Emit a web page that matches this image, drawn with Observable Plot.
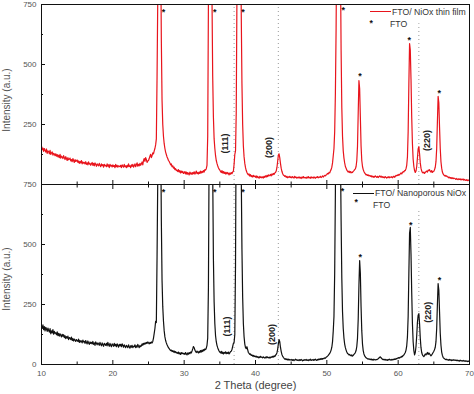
<!DOCTYPE html>
<html><head><meta charset="utf-8">
<script src="https://cdn.jsdelivr.net/npm/d3@7"></script>
<script src="https://cdn.jsdelivr.net/npm/@observablehq/plot@0.6"></script>
<style>
body{margin:0;background:#fff;}
#chart{position:relative;width:474px;height:394px;font-family:"Liberation Sans",Arial,sans-serif;}
#chart svg{position:absolute;left:0;}
.lg{position:absolute;font-size:8.7px;color:#333;line-height:1;white-space:nowrap;}
.ln{position:absolute;height:0;}
.yt{position:absolute;font-size:10px;color:#555;line-height:1;white-space:nowrap;transform:translate(-50%,-50%) rotate(-90deg);}
</style></head><body><div id="chart"></div>
<script>
// 2θ sampling grid (degrees), 10.0 → 70.0 every 0.1°
const angles = d3.range(0, 601).map(i => +(10 + i * 0.1).toFixed(1));

// FTO / NiOx thin film (red, top panel), intensity
const redIntensity = [
/*10*/160,145,152,138,150,142,135,148,130,140,
/*11*/138,128,142,125,132,136,122,130,127,120,
/*12*/128,118,125,115,122,112,126,110,118,114,
/*13*/108,120,112,104,116,108,100,112,103,106,
/*14*/110,98,104,95,108,100,92,104,96,99,
/*15*/102,92,98,88,96,90,100,86,94,89,
/*16*/92,86,95,84,90,82,94,85,88,80,
/*17*/86,92,80,88,78,90,84,76,86,82,
/*18*/78,88,80,74,86,79,83,72,84,78,
/*19*/80,74,86,76,82,70,84,77,80,73,
/*20*/82,75,79,70,84,74,80,72,78,76,
/*21*/74,80,70,82,76,72,84,74,78,70,
/*22*/80,73,86,75,78,70,82,76,84,72,
/*23*/78,86,74,82,90,76,84,78,88,80,
/*24*/86,94,82,100,108,96,112,104,92,98,
/*25*/100,108,118,126,112,120,132,128,140,150,
/*26*/165,190,450,780,1500,2500,2000,1000,600,350,
/*27*/250,200,170,150,135,125,115,108,100,96,
/*28*/90,82,86,74,78,68,72,62,66,58,
/*29*/60,54,62,52,58,48,56,50,55,46,
/*30*/48,54,44,52,42,50,46,40,52,44,
/*31*/48,42,50,45,53,43,48,56,45,50,
/*32*/44,52,46,56,48,54,50,58,52,62,
/*33*/60,66,80,200,760,1800,2600,2400,1400,780,
/*34*/450,280,190,150,120,100,88,78,70,64,
/*35*/60,54,50,58,48,54,46,52,44,50,
/*36*/44,50,46,40,48,43,50,45,52,55,
/*37*/85,125,140,300,800,1800,2600,2500,1800,1100,
/*38*/720,420,250,160,115,88,70,58,50,44,
/*39*/40,44,35,41,33,37,31,38,33,35,
/*40*/30,36,28,34,30,26,34,29,32,28,
/*41*/32,27,34,30,36,31,38,33,40,36,
/*42*/38,42,36,44,40,46,42,48,50,56,
/*43*/70,95,122,128,112,88,68,55,46,40,
/*44*/38,34,36,30,34,28,32,30,34,29,
/*45*/32,28,33,30,27,34,29,31,26,30,
/*46*/28,32,27,30,25,31,28,33,27,30,
/*47*/29,26,31,28,33,27,30,26,32,28,
/*48*/30,27,32,28,26,31,29,33,28,31,
/*49*/30,34,29,32,36,31,35,38,36,40,
/*50*/42,46,44,50,48,56,62,72,90,120,
/*51*/150,220,380,650,1100,2000,2800,2500,1600,950,
/*52*/560,320,200,140,110,90,75,68,60,56,
/*53*/52,56,50,54,48,52,50,55,58,62,
/*54*/65,75,100,160,300,433,400,280,160,100,
/*55*/75,62,54,48,44,40,42,38,40,36,
/*56*/38,34,37,32,35,30,34,31,36,33,
/*57*/30,34,29,33,36,31,35,30,33,29,
/*58*/32,28,33,30,27,31,29,33,28,31,
/*59*/30,33,28,32,35,30,34,38,36,40,
/*60*/38,42,40,45,48,44,50,54,52,58,
/*61*/58,66,80,115,220,420,587,560,440,280,
/*62*/170,105,75,58,50,56,75,110,148,158,
/*63*/128,90,68,56,50,48,52,46,50,54,
/*64*/56,52,60,58,62,55,52,58,50,54,
/*65*/55,62,72,95,150,260,367,340,240,150,
/*66*/95,68,52,44,40,36,38,34,36,32,
/*67*/32,28,31,26,29,25,28,24,27,25,
/*68*/24,21,25,22,20,24,21,23,19,22,
/*69*/20,23,18,21,19,17,20,16,19,17,
/*70*/15];

// FTO / Nanoporous NiOx (black, bottom panel)
const blackIntensity = [
/*10*/160,150,165,145,158,140,155,148,138,152,
/*11*/142,135,150,128,140,132,145,126,138,130,
/*12*/132,124,136,120,130,118,128,122,115,126,
/*13*/118,124,112,120,108,116,110,118,104,112,
/*14*/110,104,114,100,108,98,106,102,96,104,
/*15*/100,96,106,92,100,94,98,90,102,94,
/*16*/96,88,100,92,86,98,90,84,94,88,
/*17*/92,86,96,84,90,80,94,88,82,90,
/*18*/86,80,92,84,78,90,82,76,88,84,
/*19*/80,88,78,92,82,76,88,80,74,86,
/*20*/82,76,88,78,84,74,86,80,72,84,
/*21*/78,84,74,86,80,72,82,76,70,80,
/*22*/76,70,82,74,68,78,72,80,70,76,
/*23*/74,82,70,78,72,84,76,70,80,74,
/*24*/78,86,80,88,84,90,86,92,88,94,
/*25*/90,86,92,88,94,90,96,110,130,150,
/*26*/180,175,450,780,1500,2500,2000,1000,600,350,
/*27*/240,180,140,115,100,90,82,76,70,66,
/*28*/62,58,60,54,58,52,56,50,54,48,
/*29*/50,46,52,44,48,42,50,45,48,44,
/*30*/46,42,50,44,40,48,43,50,45,52,
/*31*/48,56,65,75,70,60,54,50,56,52,
/*32*/48,55,50,58,52,60,54,62,58,65,
/*33*/62,68,80,110,320,900,2000,2600,2000,1100,
/*34*/800,440,260,170,120,95,80,70,62,56,
/*35*/52,48,55,46,52,44,50,47,53,45,
/*36*/50,46,52,44,48,54,55,62,75,88,
/*37*/92,125,420,1100,2200,2700,2500,2000,1500,1100,
/*38*/800,480,280,170,115,85,70,66,74,62,
/*39*/50,46,42,44,38,40,35,38,33,36,
/*40*/32,35,30,33,28,32,29,34,30,31,
/*41*/28,32,29,27,31,28,33,29,30,27,
/*42*/31,28,32,30,34,31,36,33,38,42,
/*43*/48,62,85,104,95,72,55,42,35,30,
/*44*/26,22,24,20,23,19,22,18,21,20,
/*45*/18,21,17,20,16,19,22,18,20,17,
/*46*/19,16,20,17,21,18,15,19,17,20,
/*47*/18,21,17,19,16,20,18,22,17,19,
/*48*/20,17,21,18,22,19,17,21,19,23,
/*49*/20,24,21,25,22,26,24,28,26,30,
/*50*/32,35,38,42,46,52,60,72,95,140,
/*51*/200,380,720,1300,2200,2800,2600,1900,1300,900,
/*52*/600,360,220,150,110,85,70,60,52,46,
/*53*/44,40,42,38,36,40,35,38,42,45,
/*54*/50,58,75,110,190,330,433,380,240,140,
/*55*/85,58,44,36,32,28,26,24,22,24,
/*56*/22,20,23,19,21,18,22,20,19,21,
/*57*/20,22,24,27,30,32,28,25,22,20,
/*58*/22,19,21,18,20,17,21,19,22,20,
/*59*/18,21,19,22,20,23,21,25,23,27,
/*60*/26,29,27,31,30,34,33,38,40,45,
/*61*/50,60,78,115,200,380,548,571,460,300,
/*62*/170,95,58,40,50,75,120,175,205,212,
/*63*/170,110,70,50,40,36,33,38,44,40,
/*64*/45,50,42,48,44,40,36,40,45,50,
/*65*/55,62,72,95,150,250,337,310,220,130,
/*66*/80,52,38,30,26,24,22,20,22,19,
/*67*/20,17,21,18,20,16,19,17,20,18,
/*68*/17,19,16,18,15,17,14,18,16,15,
/*69*/16,14,17,15,13,16,14,12,15,13,
/*70*/12];

// FTO reflection markers (*)
const topStars = [[27.1,725],[34.3,725],[38.25,725],[52.3,733],[54.65,462],[61.55,608],[65.75,388]];
const bottomStars = [[27.1,725],[34.3,725],[38.25,725],[52.2,730],[54.7,454],[61.75,590],[65.8,358]];

// NiO reflections: dotted reference lines and labels
const hklAngles = [37.0, 43.2, 62.9];
const hklLabels = ["(111)", "(200)", "(220)"];
const topLineTops = [750, 750, 670];
const bottomLineTops = [750, 750, 640];
const topLabelPos = [[35.8,171],[41.9,154],[64.0,183]];
const bottomLabelPos = [[36.0,158],[42.3,125],[64.2,218]];

// axis ticks
const xMajor = [10,20,30,40,50,60,70];
const xMinor = [15,25,35,45,55,65];
const yMajor = [0,250,500,750];
const yMinor = [125,375,625];
const topYLabels = [250,500,750];
const bottomYLabels = [0,250,500,750];

const yTitle = "Intensity (a.u.)";
const xTitle = "2 Theta (degree)";

const FONT = "'Liberation Sans', Arial, sans-serif";

function panel({values, color, stars, lineTops, labelPos, yLabels, showX, height, marginTop, marginBottom}) {
  const rows = angles.map((a, i) => ({angle: a, intensity: values[i]}));
  const refs = hklAngles.map((a, i) => ({x: a, top: lineTops[i]}));
  const labels = labelPos.map((p, i) => ({x: p[0], y: p[1], label: hklLabels[i]}));
  const starRows = stars.map(([x, y]) => ({x, y}));
  const blank = () => "";
  const marks = [
    Plot.ruleX(refs, {x: "x", y1: 0, y2: "top", stroke: "#9a9a9a", strokeWidth: 1, strokeDasharray: "1,3"}),
    Plot.line(rows, {x: "angle", y: "intensity", stroke: color, strokeWidth: 1.2, clip: true}),
    Plot.text(starRows, {x: "x", y: "y", text: () => "*", fontSize: 9, fontWeight: "bold", fill: "#111", dy: 2}),
    Plot.text(labels, {x: "x", y: "y", text: "label", rotate: -90, fontSize: 9, fontWeight: "bold", fill: "#222"}),
    Plot.frame({stroke: "#111", strokeWidth: 1}),
    Plot.axisY(yMajor, {tickSize: -4, tickFormat: blank, label: null, stroke: "#111"}),
    Plot.axisY(yMinor, {tickSize: -2, tickFormat: blank, label: null, stroke: "#111"}),
    Plot.axisY(yLabels, {tickSize: 0, tickPadding: 5, fontSize: 8, fill: "#555", label: null}),
    Plot.axisX(xMajor, {anchor: "bottom", tickSize: -4, tickFormat: blank, label: null, stroke: "#111"}),
    Plot.axisX(xMinor, {anchor: "bottom", tickSize: -2.5, tickFormat: blank, label: null, stroke: "#111"})
  ];
  if (showX) {
    marks.push(
      Plot.axisX(xMajor, {anchor: "top", tickSize: -4, tickFormat: blank, label: null, stroke: "#111"}),
      Plot.axisX(xMinor, {anchor: "top", tickSize: -2.5, tickFormat: blank, label: null, stroke: "#111"}),
      Plot.axisX(xMajor, {anchor: "bottom", tickSize: 0, tickPadding: 6, fontSize: 8, fill: "#555", label: null}),
      Plot.text([xTitle], {frameAnchor: "bottom", dy: 24, fontSize: 11, fill: "#444"})
    );
  }
  return Plot.plot({
    width: 474, height, marginLeft: 41, marginRight: 5, marginTop, marginBottom,
    x: {domain: [10, 70]},
    y: {domain: [0, 750]},
    style: {background: "transparent", fontFamily: FONT, overflow: "visible"},
    marks
  });
}

const chart = document.getElementById("chart");
const top1 = panel({values: redIntensity, color: "#e8141c", stars: topStars, lineTops: topLineTops, labelPos: topLabelPos, yLabels: topYLabels, showX: false, height: 186, marginTop: 4, marginBottom: 2});
top1.style.top = "0px";
const bot = panel({values: blackIntensity, color: "#111", stars: bottomStars, lineTops: bottomLineTops, labelPos: bottomLabelPos, yLabels: bottomYLabels, showX: true, height: 214, marginTop: 4, marginBottom: 30});
bot.style.top = "180px";
chart.appendChild(top1);
chart.appendChild(bot);

// y titles (rotated)
function addYTitle(cy) {
  const d = document.createElement("div");
  d.className = "yt";
  d.textContent = yTitle;
  d.style.left = "7px"; d.style.top = cy + "px";
  chart.appendChild(d);
}
addYTitle(100);
addYTitle(279);

// legends
function addLine(x1, x2, y, color) {
  const d = document.createElement("div");
  d.className = "ln";
  d.style.left = x1 + "px"; d.style.width = (x2 - x1) + "px";
  d.style.top = (y - 0.6) + "px"; d.style.borderTop = "1.3px solid " + color;
  chart.appendChild(d);
}
function addText(x, yc, txt, extra) {
  const d = document.createElement("div");
  d.className = "lg";
  d.textContent = txt;
  d.style.left = x + "px"; d.style.top = (yc - 4.5) + "px";
  if (extra) Object.assign(d.style, extra);
  chart.appendChild(d);
}
addLine(370, 391, 12, "#e8141c");
addText(392, 12, "FTO/ NiOx thin film");
addText(369.5, 23, "*", {fontWeight: "bold", color: "#111"});
addText(390, 24, "FTO");
addLine(353, 374, 193.5, "#111");
addText(375, 193.5, "FTO/ Nanoporous NiOx");
addText(354.5, 202, "*", {fontWeight: "bold", color: "#111"});
addText(373, 205, "FTO");
</script></body></html>
